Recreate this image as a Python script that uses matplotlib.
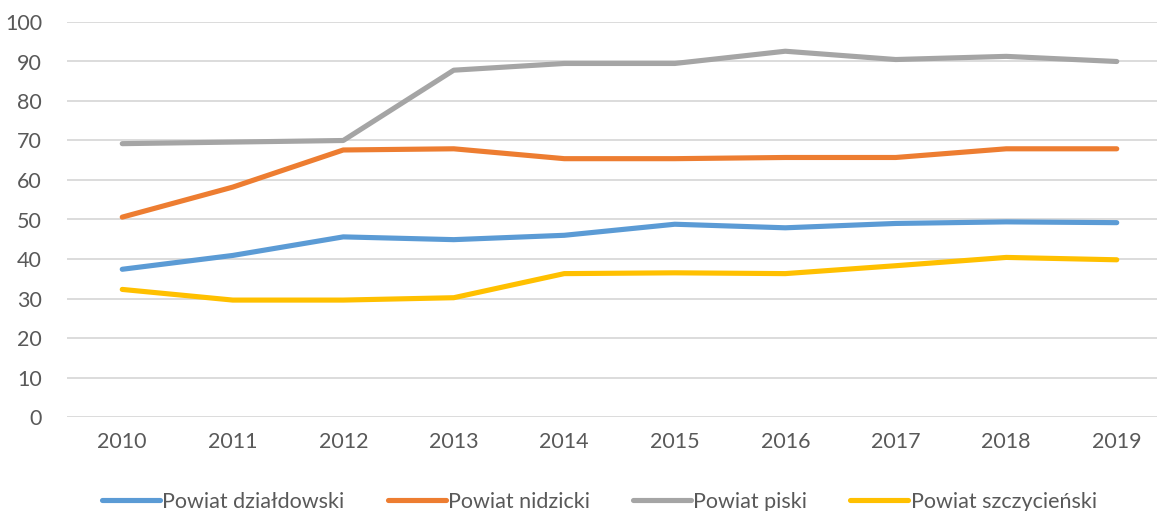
import matplotlib.pyplot as plt

years = ['2010', '2011', '2012', '2013', '2014', '2015', '2016', '2017', '2018', '2019']
dzialdowski = [37.4, 40.9, 45.6, 44.9, 46.0, 48.8, 47.9, 49.0, 49.4, 49.2]
nidzicki = [50.6, 58.2, 67.6, 67.9, 65.4, 65.4, 65.7, 65.7, 67.9, 67.9]
piski = [69.2, 69.6, 70.0, 87.8, 89.5, 89.5, 92.6, 90.5, 91.3, 90.0]
szczycienski = [32.3, 29.6, 29.6, 30.2, 36.3, 36.5, 36.3, 38.3, 40.4, 39.8]

series = [
    ('Powiat działdowski', dzialdowski, '#5B9BD5'),
    ('Powiat nidzicki', nidzicki, '#ED7D31'),
    ('Powiat piski', piski, '#A5A5A5'),
    ('Powiat szczycieński', szczycienski, '#FFC000'),
]

plt.rcParams['font.family'] = ['Lato', 'DejaVu Sans']

fig = plt.figure(figsize=(11.57, 5.11), dpi=100)
# axes area in pixels: left 67, right ~1172, bottom 417, top 22
ax = fig.add_axes([67 / 1157, (511 - 417) / 511, (1172 - 67) / 1157, (417 - 22) / 511])

x = list(range(len(years)))
for name, vals, col in series:
    ax.plot(x, vals, color=col, lw=3.7, label=name, solid_capstyle='round', solid_joinstyle='round')

ax.set_xlim(-0.5, len(years) - 0.5)
ax.set_ylim(0, 100)
ax.set_yticks(range(0, 101, 10))
ax.set_xticks(x)
ax.set_xticklabels(years)
ax.grid(axis='y', color='#d9d9d9', lw=1.3)
ax.set_axisbelow(True)
for s in ax.spines.values():
    s.set_visible(False)
ax.tick_params(length=0, labelsize=15.5, labelcolor='#595959')
ax.tick_params(axis='y', pad=18)
ax.tick_params(axis='x', pad=11)

fig.legend(loc='center', bbox_to_anchor=(0.518, 0.018), ncol=4, frameon=False,
           fontsize=15.5, labelcolor='#595959', handlelength=2.7, handletextpad=0.1,
           columnspacing=2.0)

fig.savefig('out.png', dpi=100)
